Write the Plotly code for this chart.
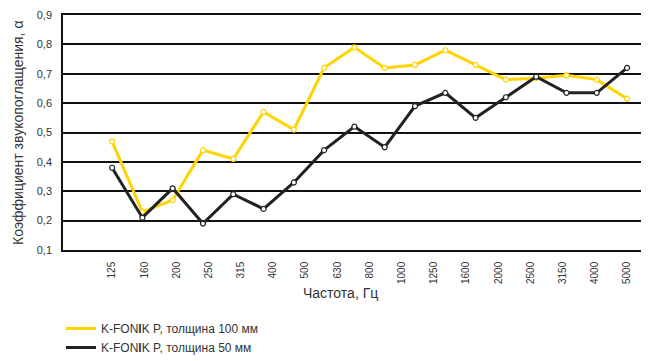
import plotly.graph_objects as go

freq_labels = ["125", "160", "200", "250", "315", "400", "500", "630", "800",
               "1000", "1250", "1600", "2000", "2500", "3150", "4000", "5000"]
series_100 = [0.47, 0.23, 0.27, 0.44, 0.41, 0.57, 0.51, 0.72, 0.79, 0.72,
              0.73, 0.78, 0.73, 0.68, 0.685, 0.695, 0.68, 0.615]
series_50 = [0.38, 0.21, 0.31, 0.19, 0.29, 0.24, 0.33, 0.44, 0.52, 0.45,
             0.59, 0.635, 0.55, 0.62, 0.69, 0.635, 0.635, 0.72]
name_100 = "K-FON<b>I</b>K P, толщина 100 мм"
name_50 = "K-FON<b>I</b>K P, толщина 50 мм"
y_ticks = [0.1, 0.2, 0.3, 0.4, 0.5, 0.6, 0.7, 0.8, 0.9]
y_tick_text = ["0,1", "0,2", "0,3", "0,4", "0,5", "0,6", "0,7", "0,8", "0,9"]
x_title = "Частота, Гц"
y_title = "Коэффициент звукопоглащения, α"

YELLOW = "#FFD400"
BLACK = "#222222"
TEXT = "#333333"
FONT = "Liberation Sans, Arial, sans-serif"

# page body has an 8px default margin; size the figure so it fits the window
OFF = 8
W, H = 656 - OFF, 361 - OFF
# plot area edges in window pixels
P_LEFT, P_RIGHT, P_TOP, P_BOTTOM = 63, 641, 15, 250
ML = P_LEFT - OFF
MT = P_TOP - OFF
MR = W - (P_RIGHT - OFF)
MB = H - (P_BOTTOM - OFF)
plot_w = W - ML - MR
plot_h = H - MT - MB


def px_x(sx):
    return (sx - P_LEFT) / plot_w


def px_y(sy):
    return (P_BOTTOM - sy) / plot_h


n_pts = len(series_100)
x_pts = list(range(n_pts))
span = n_pts - 1
tickvals = [j * span / (len(freq_labels) - 1) for j in range(len(freq_labels))]

fig = go.Figure()
fig.add_trace(go.Scatter(
    x=x_pts, y=series_100, mode="lines+markers", showlegend=False,
    line=dict(color=YELLOW, width=3),
    marker=dict(symbol="circle", size=5, color="white",
                line=dict(color=YELLOW, width=1.2))))
fig.add_trace(go.Scatter(
    x=x_pts, y=series_50, mode="lines+markers", showlegend=False,
    line=dict(color=BLACK, width=3),
    marker=dict(symbol="circle", size=5, color="white",
                line=dict(color=BLACK, width=1.2))))
# legend-only entries
fig.add_trace(go.Scatter(x=[None], y=[None], mode="lines", name=name_100,
                         line=dict(color=YELLOW, width=3)))
fig.add_trace(go.Scatter(x=[None], y=[None], mode="lines", name=name_50,
                         line=dict(color=BLACK, width=3)))

fig.update_layout(
    width=W, height=H,
    margin=dict(l=ML, r=MR, t=MT, b=MB, autoexpand=False),
    paper_bgcolor="white", plot_bgcolor="white",
    font=dict(family=FONT, size=12, color=TEXT),
    showlegend=True,
    legend=dict(x=px_x(61), y=px_y(314), xanchor="left", yanchor="top",
                orientation="v", font=dict(size=12, color=TEXT),
                tracegroupgap=0, itemwidth=30, bgcolor="rgba(0,0,0,0)"),
    annotations=[
        dict(text=x_title, xref="paper", yref="paper",
             x=px_x(340), y=px_y(293),
             xanchor="center", yanchor="middle", showarrow=False,
             font=dict(size=14, color=TEXT)),
        dict(text=y_title, xref="paper", yref="paper", textangle=-90,
             x=px_x(18), y=px_y(133),
             xanchor="center", yanchor="middle", showarrow=False,
             font=dict(size=14, color=TEXT)),
    ],
)
fig.update_xaxes(
    range=[-1.62, 17.46], tickvals=tickvals, ticktext=freq_labels,
    tickangle=-90, tickfont=dict(size=10, color=TEXT),
    showgrid=False, zeroline=False,
    showline=True, linecolor="#111111", linewidth=1.5, mirror=True,
    ticks="outside", ticklen=6, tickcolor="rgba(0,0,0,0)", automargin=False,
)
fig.update_yaxes(
    range=[0.1, 0.9], tickvals=y_ticks, ticktext=y_tick_text,
    tickfont=dict(size=11, color=TEXT),
    showgrid=True, gridcolor="#111111", gridwidth=1.5,
    zeroline=False, showline=True, linecolor="#111111", linewidth=1.5,
    ticks="outside", ticklen=7, tickcolor="rgba(0,0,0,0)", automargin=False,
)

fig.write_html("out.html")
